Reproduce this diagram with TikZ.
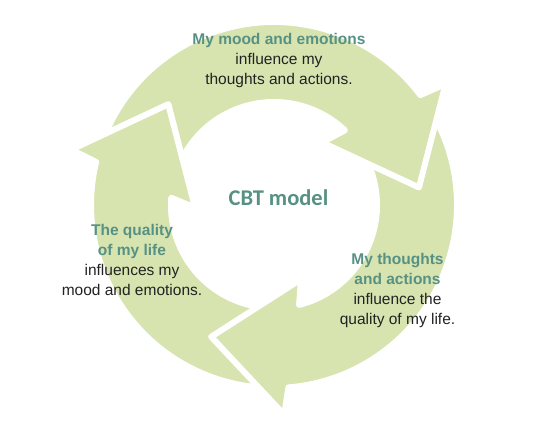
\documentclass[tikz,border=0pt]{standalone}
\usepackage{fontspec}
\setmainfont{Liberation Sans}
\newfontfamily\calibrifont{Carlito}
\definecolor{ringgreen}{RGB}{215,228,176}
\definecolor{titleteal}{RGB}{87,145,132}
\definecolor{bodygrey}{RGB}{34,34,34}
\begin{document}
\begin{tikzpicture}[x=1pt,y=1pt,line join=round]
\tikzset{every node/.style={align=center,inner sep=0pt,text=bodygrey,font=\fontsize{15.5}{20}\selectfont},
  arrowbody/.style={fill=ringgreen,draw=white,line width=6pt},
  cyclearrow/.style 2 args={insert path={(#1:183) arc[start angle=#1,end angle=#2+30,radius=183] -- ({#2+28.3}:210) -- (#2:146) -- ({#2+45.5}:79) -- ({#2+39.6}:103) arc[start angle=#2+39.6,end angle=#1,radius=103] -- cycle}}}
\useasboundingbox (-274,-219) rectangle (260,205);
\foreach \tl/\tp in {161.4/6.9,31.9/-115.5,269.5/136.4} \path[arrowbody,cyclearrow={\tl}{\tp}];
\foreach \tl/\tp in {161.4/6.9,31.9/-115.5,269.5/136.4} {
  \begin{scope}
    \clip (0,0) -- ({\tp-12}:260) arc[start angle=\tp-12,end angle=\tp+58,radius=260] -- cycle;
    \path[arrowbody,cyclearrow={\tl}{\tp}];
  \end{scope}}
\node (cbt) at (4.5,7) {\calibrifont\fontsize{22.5}{26}\selectfont\bfseries\color{titleteal}CBT model};
\node (mood) at (5,144.5) {\textcolor{titleteal}{\textbf{My mood and emotions}}\\influence my\\thoughts and actions.};
\node (life) at (-142,-55) {\textcolor{titleteal}{\textbf{The quality}}\\\textcolor{titleteal}{\textbf{of my life}}\\influences my\\mood and emotions.};
\node (thoughts) at (123.5,-85) {\textcolor{titleteal}{\textbf{My thoughts}}\\\textcolor{titleteal}{\textbf{and actions}}\\influence the\\quality of my life.};
\end{tikzpicture}
\end{document}
